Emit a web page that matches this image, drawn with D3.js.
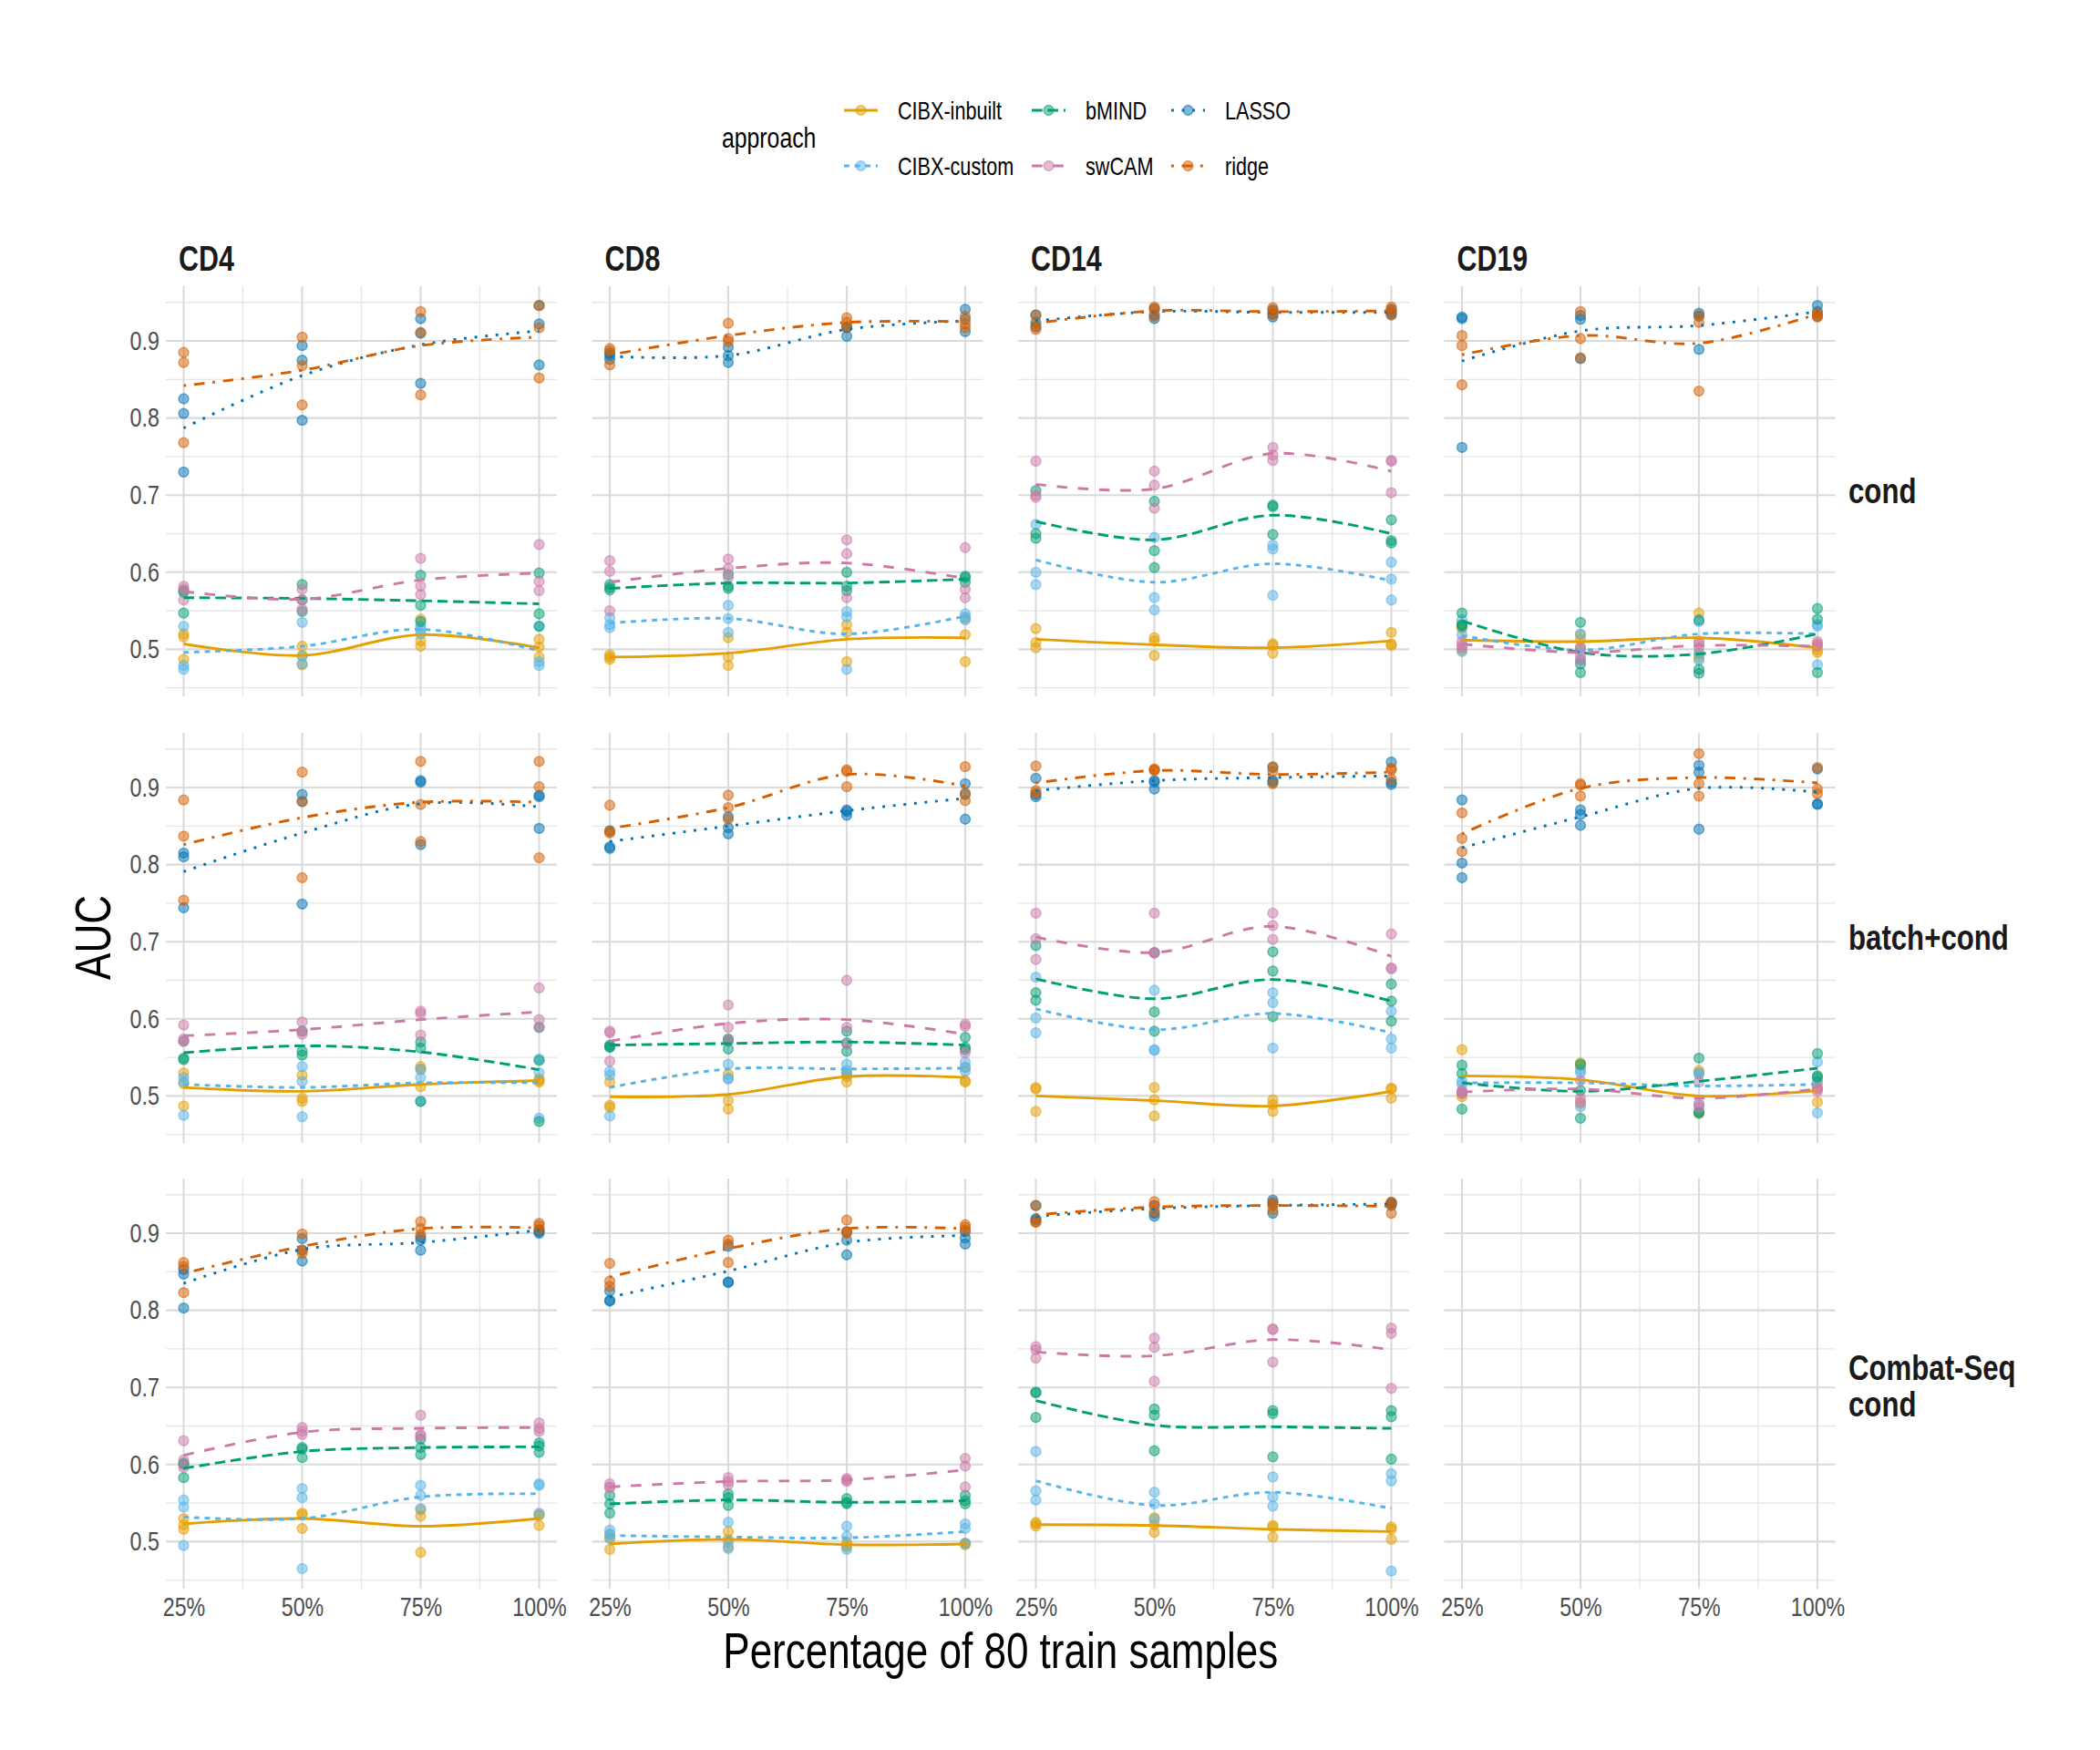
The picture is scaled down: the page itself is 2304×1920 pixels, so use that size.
<!DOCTYPE html>
<html>
<head>
<meta charset="utf-8">
<script src="https://cdn.jsdelivr.net/npm/d3@7"></script>
<style>
  body { margin: 0; background: #fff; }
  text { font-family: "Liberation Sans", Arial, Helvetica, sans-serif; }
</style>
</head>
<body>
<div id="chart"></div>
<script>
const cellTypes = ['CD4', 'CD8', 'CD14', 'CD19'];
const settings = ['cond', 'batch+cond', 'Combat-Seq\ncond'];
const approaches = ['CIBX-inbuilt', 'CIBX-custom', 'bMIND', 'swCAM', 'LASSO', 'ridge'];
const approachColors = ['#E69F00', '#56B4E9', '#009E73', '#CC79A7', '#0072B2', '#D55E00'];
const pctValues = [25, 50, 75, 100];
const pctLabels = ['25%', '50%', '75%', '100%'];
const aucTicks = [0.5, 0.6, 0.7, 0.8, 0.9];

// points: one row per approach, 4 groups (25..100%) of 3 runs
const pts_cond_CD4 = [
  [[.520,.516,.487],[.504,.492,.480],[.539,.511,.504],[.513,.503,.490]],
  [[.530,.479,.474],[.535,.491,.481],[.530,.526,.520],[.530,.484,.479]],
  [[.576,.574,.547],[.584,.564,.549],[.596,.557,.536],[.599,.546,.530]],
  [[.582,.578,.564],[.578,.564,.552],[.618,.582,.571],[.636,.588,.576]],
  [[.825,.806,.730],[.894,.875,.797],[.929,.910,.845],[.946,.922,.869]],
  [[.885,.872,.768],[.905,.868,.817],[.938,.911,.830],[.946,.917,.852]]
];
const fit_cond_CD4 = [[.507,.492,.519,.502],[.496,.504,.526,.498],[.567,.566,.563,.559],
  [.575,.565,.590,.599],[.787,.855,.895,.913],[.842,.862,.894,.905]];

const pts_cond_CD8 = [
  [[.493,.490,.487],[.515,.490,.479],[.532,.522,.484],[.540,.519,.484]],
  [[.541,.532,.528],[.557,.540,.522],[.549,.542,.474],[.546,.542,.538]],
  [[.584,.580,.577],[.597,.582,.579],[.600,.582,.576],[.595,.593,.587]],
  [[.615,.601,.550],[.617,.605,.593],[.642,.624,.567],[.632,.578,.567]],
  [[.884,.881,.876],[.892,.881,.872],[.918,.917,.906],[.941,.928,.912]],
  [[.890,.887,.869],[.923,.903,.899],[.930,.924,.918],[.932,.922,.917]]
];
const fit_cond_CD8 = [[.490,.495,.513,.515],[.534,.540,.520,.543],[.579,.586,.586,.591],
  [.587,.605,.612,.592],[.880,.881,.915,.926],[.882,.907,.924,.925]];

const pts_cond_CD14 = [
  [[.527,.509,.502],[.515,.511,.492],[.507,.505,.495],[.522,.507,.505]],
  [[.662,.600,.584],[.645,.567,.551],[.635,.630,.570],[.613,.591,.564]],
  [[.706,.650,.644],[.692,.628,.606],[.687,.685,.649],[.668,.641,.638]],
  [[.744,.700,.697],[.731,.713,.683],[.762,.752,.745],[.745,.744,.703]],
  [[.934,.924,.918],[.942,.934,.929],[.940,.935,.931],[.941,.937,.934]],
  [[.933,.920,.915],[.944,.941,.932],[.943,.939,.934],[.944,.940,.934]]
];
const fit_cond_CD14 = [[.513,.506,.502,.511],[.616,.587,.611,.589],[.666,.642,.674,.650],
  [.714,.708,.754,.731],[.926,.938,.937,.937],[.923,.939,.938,.939]];

const pts_cond_CD19 = [
  [[.532,.527,.499],[.519,.513,.503],[.547,.493,.489],[.505,.499,.496]],
  [[.538,.519,.497],[.520,.499,.487],[.536,.495,.486],[.532,.530,.480]],
  [[.547,.532,.530],[.535,.481,.470],[.538,.474,.469],[.553,.539,.470]],
  [[.510,.505,.502],[.502,.493,.486],[.511,.507,.502],[.510,.507,.504]],
  [[.931,.929,.762],[.933,.928,.877],[.936,.932,.889],[.946,.938,.932]],
  [[.907,.894,.843],[.938,.903,.878],[.933,.924,.835],[.936,.933,.931]]
];
const fit_cond_CD19 = [[.512,.510,.515,.502],[.518,.499,.520,.520],[.537,.496,.494,.520],
  [.507,.496,.505,.504],[.874,.913,.920,.938],[.882,.907,.897,.935]];

const pts_batch_CD4 = [
  [[.530,.516,.487],[.527,.497,.493],[.538,.534,.512],[.522,.520,.518]],
  [[.524,.518,.475],[.538,.519,.473],[.535,.524,.493],[.548,.530,.471]],
  [[.571,.549,.547],[.584,.558,.553],[.570,.562,.493],[.589,.546,.467]],
  [[.592,.574,.571],[.596,.584,.580],[.610,.607,.579],[.640,.599,.589]],
  [[.815,.810,.744],[.891,.882,.749],[.909,.907,.826],[.890,.888,.847]],
  [[.884,.837,.754],[.920,.882,.783],[.934,.878,.830],[.934,.901,.809]]
];
const fit_batch_CD4 = [[.511,.506,.515,.520],[.515,.511,.517,.517],[.556,.565,.557,.534],
  [.578,.586,.599,.609],[.791,.841,.879,.875],[.826,.861,.881,.881]];

const pts_batch_CD8 = [
  [[.518,.488,.485],[.528,.494,.483],[.529,.525,.518],[.537,.520,.518]],
  [[.532,.527,.474],[.541,.523,.522],[.541,.533,.529],[.544,.537,.532]],
  [[.566,.564,.563],[.574,.571,.561],[.584,.569,.558],[.576,.563,.560]],
  [[.584,.582,.545],[.618,.589,.573],[.650,.589,.567],[.593,.590,.556]],
  [[.844,.823,.821],[.862,.848,.840],[.871,.869,.864],[.905,.891,.859]],
  [[.877,.843,.841],[.890,.874,.859],[.923,.921,.901],[.927,.893,.883]]
];
const fit_batch_CD8 = [[.499,.502,.525,.524],[.511,.535,.535,.536],[.566,.568,.570,.566],
  [.571,.594,.599,.580],[.830,.850,.870,.886],[.847,.874,.917,.902]];

const pts_batch_CD14 = [
  [[.511,.509,.480],[.511,.495,.474],[.495,.489,.480],[.510,.509,.497]],
  [[.654,.601,.582],[.637,.560,.559],[.634,.621,.562],[.610,.574,.562]],
  [[.695,.634,.624],[.686,.609,.584],[.687,.662,.603],[.645,.623,.597]],
  [[.737,.704,.677],[.737,.686,.685],[.737,.721,.703],[.710,.666,.665]],
  [[.912,.891,.888],[.909,.907,.898],[.926,.909,.907],[.933,.907,.904]],
  [[.928,.896,.893],[.924,.923,.922],[.927,.921,.905],[.925,.923,.911]]
];
const fit_batch_CD14 = [[.500,.494,.487,.506],[.613,.586,.607,.582],[.652,.626,.651,.623],
  [.706,.686,.720,.681],[.896,.909,.913,.915],[.906,.922,.917,.920]];

const pts_batch_CD19 = [
  [[.560,.503,.499],[.543,.539,.490],[.533,.530,.477],[.517,.510,.492]],
  [[.519,.515,.505],[.534,.530,.486],[.530,.528,.488],[.544,.519,.478]],
  [[.540,.529,.483],[.541,.507,.471],[.549,.479,.478],[.555,.526,.524]],
  [[.507,.505,.503],[.520,.497,.492],[.518,.490,.485],[.511,.509,.506]],
  [[.884,.802,.783],[.871,.865,.851],[.929,.920,.846],[.924,.879,.878]],
  [[.867,.834,.817],[.905,.903,.889],[.944,.905,.889],[.926,.898,.892]]
];
const fit_batch_CD19 = [[.526,.521,.500,.507],[.517,.517,.513,.515],[.517,.506,.519,.536],
  [.505,.509,.497,.509],[.822,.862,.899,.894],[.840,.899,.913,.906]];

const pts_combat_CD4 = [
  [[.530,.522,.516],[.537,.535,.517],[.541,.533,.486],[.535,.534,.521]],
  [[.554,.545,.495],[.569,.557,.465],[.573,.560,.543],[.575,.573,.537]],
  [[.602,.600,.583],[.622,.620,.609],[.633,.622,.613],[.628,.624,.616]],
  [[.631,.606,.596],[.648,.643,.639],[.664,.639,.637],[.654,.647,.643]],
  [[.853,.847,.803],[.893,.878,.864],[.895,.891,.878],[.904,.902,.900]],
  [[.862,.857,.823],[.899,.878,.874],[.915,.906,.898],[.913,.910,.905]]
];
const fit_combat_CD4 = [[.523,.530,.520,.530],[.532,.530,.558,.562],[.595,.617,.622,.623],
  [.612,.642,.647,.648],[.835,.879,.888,.904],[.848,.883,.906,.907]];

const pts_combat_CD8 = [
  [[.509,.505,.490],[.513,.503,.493],[.499,.496,.493],[.498,.497,.496]],
  [[.515,.510,.504],[.525,.499,.491],[.520,.507,.490],[.523,.517,.498]],
  [[.560,.549,.537],[.562,.557,.547],[.556,.551,.549],[.560,.553,.549]],
  [[.575,.571,.570],[.583,.578,.574],[.582,.580,.578],[.608,.598,.571]],
  [[.825,.813,.812],[.883,.837,.836],[.902,.891,.872],[.902,.894,.886]],
  [[.861,.838,.831],[.891,.886,.862],[.917,.902,.900],[.911,.908,.904]]
];
const fit_combat_CD8 = [[.497,.503,.496,.497],[.508,.506,.505,.513],[.549,.554,.551,.553],
  [.571,.578,.580,.593],[.817,.851,.888,.897],[.843,.880,.906,.906]];

const pts_combat_CD14 = [
  [[.525,.523,.520],[.531,.522,.512],[.521,.519,.506],[.519,.516,.503]],
  [[.617,.566,.554],[.564,.549,.529],[.584,.558,.546],[.588,.579,.462]],
  [[.694,.693,.661],[.672,.664,.618],[.670,.666,.610],[.670,.662,.607]],
  [[.753,.749,.738],[.764,.752,.708],[.776,.775,.733],[.777,.770,.699]],
  [[.936,.919,.917],[.936,.926,.922],[.943,.939,.926],[.940,.939,.936]],
  [[.936,.915,.914],[.941,.936,.928],[.940,.936,.930],[.940,.938,.926]]
];
const fit_combat_CD14 = [[.522,.521,.516,.513],[.579,.547,.564,.543],[.683,.651,.649,.647],
  [.746,.741,.762,.749],[.922,.932,.936,.938],[.924,.934,.936,.935]];

const panels = [
  {row: 0, col: 0, pts: pts_cond_CD4, fit: fit_cond_CD4},
  {row: 0, col: 1, pts: pts_cond_CD8, fit: fit_cond_CD8},
  {row: 0, col: 2, pts: pts_cond_CD14, fit: fit_cond_CD14},
  {row: 0, col: 3, pts: pts_cond_CD19, fit: fit_cond_CD19},
  {row: 1, col: 0, pts: pts_batch_CD4, fit: fit_batch_CD4},
  {row: 1, col: 1, pts: pts_batch_CD8, fit: fit_batch_CD8},
  {row: 1, col: 2, pts: pts_batch_CD14, fit: fit_batch_CD14},
  {row: 1, col: 3, pts: pts_batch_CD19, fit: fit_batch_CD19},
  {row: 2, col: 0, pts: pts_combat_CD4, fit: fit_combat_CD4},
  {row: 2, col: 1, pts: pts_combat_CD8, fit: fit_combat_CD8},
  {row: 2, col: 2, pts: pts_combat_CD14, fit: fit_combat_CD14},
  {row: 2, col: 3, pts: null, fit: null}
];

// ggplot linetypes (solid, 22, 42, 44, 13, 1343) scaled by line width
const lw = 2.9;
const dashes = ['none', [2,2], [4,2], [4,4], [1,3], [1,3,4,3]].map(d => d === 'none' ? null : d.map(v => v * lw).join(','));

const W = 2304, H = 1920;
const panelW = 429, panelH = 450;
const colX = [182, 649.5, 1117, 1584.5];
const rowY = [314, 804, 1293];
const narrow = 0.8;   // the original uses a condensed sans

const svg = d3.select('#chart').append('svg')
  .attr('width', W).attr('height', H)
  .style('background', '#fff');

// text squeezed horizontally around its anchor point
function ntext(parent, x, y, str, size) {
  return parent.append('text')
    .attr('transform', 'translate(' + x + ',' + y + ') scale(' + narrow + ',1)')
    .attr('font-size', size)
    .text(str);
}

const x = d3.scaleLinear().domain([21.25, 103.75]).range([0, panelW]);
const y = d3.scaleLinear().domain([0.439, 0.971]).range([panelH, 0]);

const minorY = aucTicks.map(t => t - 0.05).concat([aucTicks[aucTicks.length - 1] + 0.05]);
const minorX = pctValues.slice(1).map((v, i) => (v + pctValues[i]) / 2);

const line = d3.line()
  .x((d, i) => x(pctValues[i]))
  .y(d => y(d))
  .curve(d3.curveCatmullRom.alpha(0.5));

panels.forEach(p => {
  const g = svg.append('g')
    .attr('transform', 'translate(' + colX[p.col] + ',' + rowY[p.row] + ')');

  // grid
  g.selectAll('.minor-y').data(minorY).enter().append('line')
    .attr('x1', 0).attr('x2', panelW)
    .attr('y1', d => y(d)).attr('y2', d => y(d))
    .attr('stroke', '#e6e6e6').attr('stroke-width', 1.3);
  g.selectAll('.minor-x').data(minorX).enter().append('line')
    .attr('y1', 0).attr('y2', panelH)
    .attr('x1', d => x(d)).attr('x2', d => x(d))
    .attr('stroke', '#e6e6e6').attr('stroke-width', 1.3);
  g.selectAll('.major-y').data(aucTicks).enter().append('line')
    .attr('x1', 0).attr('x2', panelW)
    .attr('y1', d => y(d)).attr('y2', d => y(d))
    .attr('stroke', '#dadada').attr('stroke-width', 2.1);
  g.selectAll('.major-x').data(pctValues).enter().append('line')
    .attr('y1', 0).attr('y2', panelH)
    .attr('x1', d => x(d)).attr('x2', d => x(d))
    .attr('stroke', '#dadada').attr('stroke-width', 2.1);

  // axes: y labels on first column, x labels on bottom row
  if (p.col === 0) {
    const ya = g.append('g').call(d3.axisLeft(y).tickValues(aucTicks)
      .tickFormat(d3.format('.1f')).tickSize(0).tickPadding(9));
    ya.select('.domain').remove();
    ya.selectAll('text').attr('font-size', 29).attr('fill', '#4d4d4d')
      .attr('transform', 'scale(' + narrow + ',1)')
      .style('font-family', '"Liberation Sans", Arial, sans-serif');
  }
  if (p.row === 2) {
    const xa = g.append('g').attr('transform', 'translate(0,' + panelH + ')')
      .call(d3.axisBottom(x).tickValues(pctValues)
        .tickFormat((d, i) => pctLabels[i]).tickSize(0).tickPadding(9));
    xa.select('.domain').remove();
    xa.selectAll('text').attr('font-size', 29).attr('fill', '#4d4d4d')
      .attr('transform', 'scale(' + narrow + ',1)')
      .style('font-family', '"Liberation Sans", Arial, sans-serif');
  }

  if (!p.pts) return;

  // points
  p.pts.forEach((series, a) => {
    const flat = [];
    series.forEach((grp, i) => grp.forEach(v => flat.push({x: pctValues[i], v: v})));
    g.selectAll('.pt' + a).data(flat).enter().append('circle')
      .attr('cx', d => x(d.x))
      .attr('cy', d => y(d.v))
      .attr('r', 5.4)
      .attr('fill', approachColors[a]).attr('fill-opacity', 0.5)
      .attr('stroke', approachColors[a]).attr('stroke-opacity', 0.55)
      .attr('stroke-width', 1.5);
  });

  // smooth fits
  p.fit.forEach((f, a) => {
    g.append('path')
      .attr('d', line(f))
      .attr('fill', 'none')
      .attr('stroke', approachColors[a])
      .attr('stroke-width', lw)
      .attr('stroke-dasharray', dashes[a]);
  });
});

// strip labels
cellTypes.forEach((c, i) => {
  ntext(svg, colX[i] + 14, 297, c, 38).attr('font-weight', 'bold').attr('fill', '#1a1a1a');
});

settings.forEach((s, r) => {
  const lines = s.split('\n');
  const g = svg.append('g')
    .attr('transform', 'translate(2028,' + (rowY[r] + panelH / 2) + ') scale(' + narrow + ',1)');
  const t = g.append('text').attr('font-size', 39).attr('font-weight', 'bold').attr('fill', '#1a1a1a');
  lines.forEach((l, k) => {
    t.append('tspan').attr('x', 0)
      .attr('y', (k - (lines.length - 1) / 2) * 41 + 13 + (lines.length > 1 ? 3 : 0))
      .text(l);
  });
});

// axis titles
svg.append('text')
  .attr('transform', 'translate(121,' + (rowY[0] + (rowY[2] + panelH - rowY[0]) / 2) + ') rotate(-90) scale(' + narrow + ',1)')
  .attr('text-anchor', 'middle')
  .attr('font-size', 55).attr('fill', '#000')
  .text('AUC');

ntext(svg, colX[0] + (colX[3] + panelW - colX[0]) / 2, 1830, 'Percentage of 80 train samples', 55)
  .attr('text-anchor', 'middle').attr('fill', '#000');

// legend
const legend = svg.append('g');
ntext(legend, 792, 162, 'approach', 31).attr('fill', '#000');

const legCols = [926, 1132, 1285];
const legRows = [121, 182];
approaches.forEach((a, i) => {
  const cx = legCols[Math.floor(i / 2)];
  const cy = legRows[i % 2];
  const k = legend.append('g').attr('transform', 'translate(' + cx + ',' + cy + ')');
  k.append('line').attr('x1', 0).attr('x2', 37).attr('y1', 0).attr('y2', 0)
    .attr('stroke', approachColors[i]).attr('stroke-width', lw)
    .attr('stroke-dasharray', dashes[i]);
  k.append('circle').attr('cx', 18.5).attr('cy', 0).attr('r', 5.4)
    .attr('fill', approachColors[i]).attr('fill-opacity', 0.5)
    .attr('stroke', approachColors[i]).attr('stroke-opacity', 0.55).attr('stroke-width', 1.5);
  ntext(k, 59, 10, a, 27).attr('fill', '#000');
});
</script>
</body>
</html>
